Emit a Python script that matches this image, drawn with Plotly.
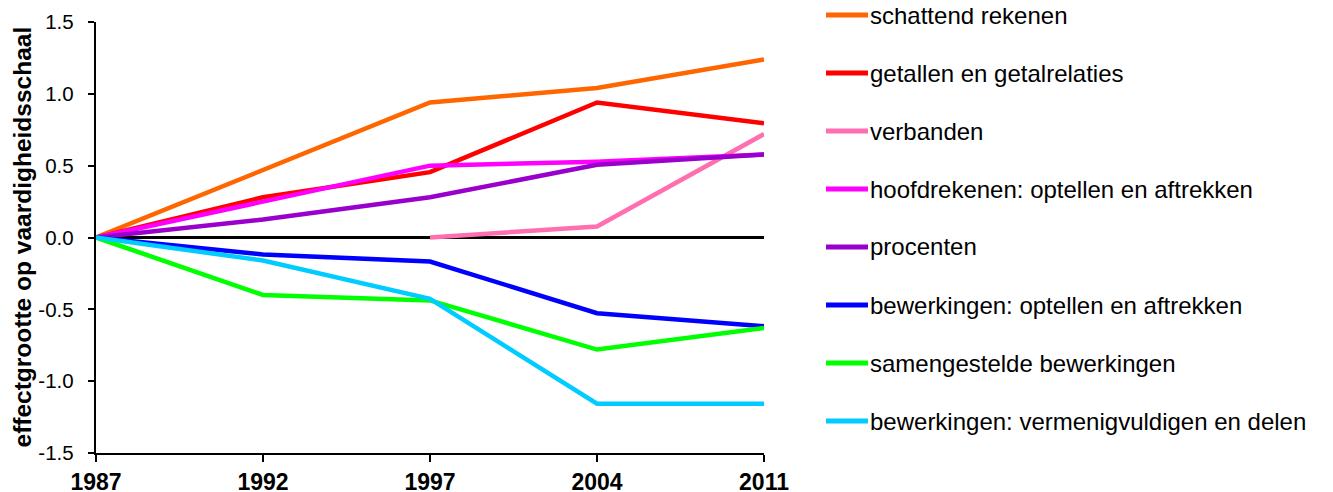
import plotly.graph_objects as go

years = ["1987", "1992", "1997", "2004", "2011"]

schattend_rekenen = [0.0, 0.47, 0.94, 1.04, 1.24]
getallen_getalrelaties = [0.0, 0.28, 0.455, 0.94, 0.795]
verbanden = [None, None, 0.0, 0.077, 0.72]
hoofdrekenen_optellen = [0.0, 0.25, 0.50, 0.527, 0.578]
procenten = [0.0, 0.125, 0.28, 0.506, 0.578]
bewerkingen_optellen = [0.0, -0.118, -0.167, -0.527, -0.617]
samengestelde_bewerkingen = [0.0, -0.40, -0.438, -0.78, -0.63]
bewerkingen_vermenigvuldigen = [0.0, -0.16, -0.427, -1.157, -1.157]

series_names = [
    "schattend rekenen",
    "getallen en getalrelaties",
    "verbanden",
    "hoofdrekenen: optellen en aftrekken",
    "procenten",
    "bewerkingen: optellen en aftrekken",
    "samengestelde bewerkingen",
    "bewerkingen: vermenigvuldigen en delen",
]
series_values = [
    schattend_rekenen,
    getallen_getalrelaties,
    verbanden,
    hoofdrekenen_optellen,
    procenten,
    bewerkingen_optellen,
    samengestelde_bewerkingen,
    bewerkingen_vermenigvuldigen,
]
series_colors = ["#FF6600", "#FF0000", "#FF6FAF", "#FF00FF", "#9900CC", "#0000FF", "#00FF00", "#00CCFF"]

y_tickvals = [-1.5, -1.0, -0.5, 0.0, 0.5, 1.0, 1.5]
y_ticklabels = ["-1.5", "-1.0", "-0.5", "0.0", "0.5", "1.0", "1.5"]
y_title = "effectgrootte op vaardigheidsschaal"

FONT = "Arial, 'Liberation Sans', sans-serif"

# the page body adds an 8px offset, so the figure is sized for the visible area
OFF = 8
W, H = 1333 - OFF, 492 - OFF
ML, MT = 96 - OFF, 22 - OFF
PW, PH = 668, 431
MR = W - ML - PW
MB = H - MT - PH

fig = go.Figure()
for i, (name, vals, col) in enumerate(zip(series_names, series_values, series_colors)):
    fig.add_trace(go.Scatter(
        x=years, y=vals, name=name, mode="lines",
        line=dict(color=col, width=4.5),
        connectgaps=False,
        showlegend=False,
    ))

# legend drawn as line samples + labels, positioned in paper coordinates
shapes = []
annotations = []
for i, (name, col) in enumerate(zip(series_names, series_colors)):
    ypix = 15 + 58 * i - OFF
    yp = (MT + PH - ypix) / PH
    x0 = (826 - OFF - ML) / PW
    x1 = (868 - OFF - ML) / PW
    shapes.append(dict(type="line", xref="paper", yref="paper", x0=x0, x1=x1, y0=yp, y1=yp,
                       line=dict(color=col, width=5)))
    annotations.append(dict(xref="paper", yref="paper", x=(868 - OFF - ML) / PW, y=yp,
                            xanchor="left", yanchor="middle", showarrow=False,
                            text=name, font=dict(size=24, family=FONT, color="black")))

# y-axis title
annotations.append(dict(xref="paper", yref="paper", x=(22 - OFF - ML) / PW, y=0.5,
                        xanchor="center", yanchor="middle", showarrow=False, textangle=-90,
                        text=f"<b>{y_title}</b>",
                        font=dict(size=24.5, family=FONT, color="black")))

fig.update_layout(
    width=W, height=H,
    margin=dict(l=ML, r=MR, t=MT, b=MB),
    paper_bgcolor="white", plot_bgcolor="white",
    font=dict(family=FONT, color="black", size=20),
    showlegend=False,
    shapes=shapes,
    annotations=annotations,
    xaxis=dict(
        type="category", range=[0, 4],
        showline=True, linecolor="black", linewidth=2,
        ticks="outside", ticklen=7, tickwidth=2, tickcolor="black",
        showgrid=False, zeroline=False, automargin=False,
        tickfont=dict(size=23, family=FONT, color="black", weight="bold"),
    ),
    yaxis=dict(
        range=[-1.5, 1.5],
        tickvals=y_tickvals,
        # an en space after each label keeps the gap to the axis as in the reference
        ticktext=[t + "\u2002" for t in y_ticklabels],
        showline=True, linecolor="black", linewidth=2,
        ticks="outside", ticklen=6, tickwidth=2, tickcolor="black",
        showgrid=False, automargin=False,
        zeroline=True, zerolinecolor="black", zerolinewidth=3,
        tickfont=dict(size=20.5, family=FONT, color="black"),
    ),
)

fig.write_html("out.html")
